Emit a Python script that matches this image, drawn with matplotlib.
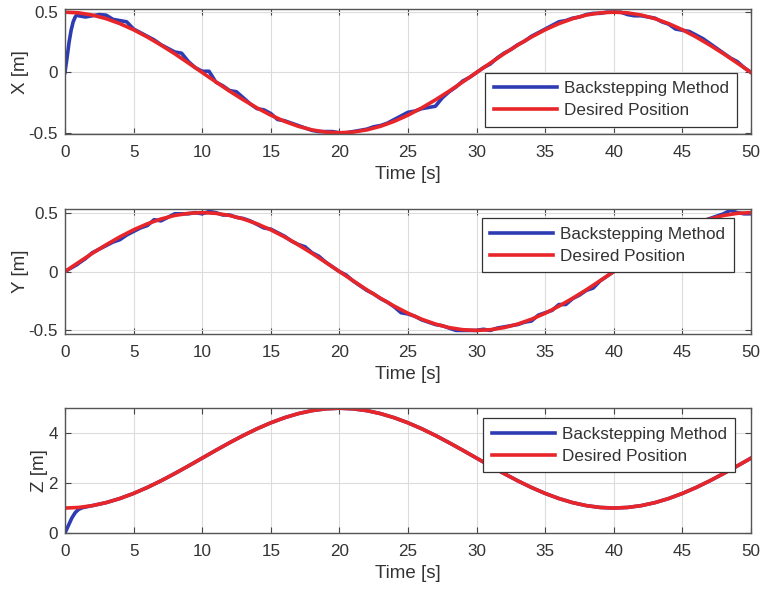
import matplotlib
matplotlib.use("Agg")
import matplotlib.pyplot as plt
import numpy as np

# desired trajectory, read every 1 s
t_ref = np.arange(0, 51, 1)
x_ref = [0.5, 0.494, 0.476, 0.446, 0.405, 0.354, 0.294, 0.227, 0.155, 0.078,
         0.0, -0.078, -0.155, -0.227, -0.294, -0.354, -0.405, -0.446, -0.476, -0.494,
         -0.5, -0.494, -0.476, -0.446, -0.405, -0.354, -0.294, -0.227, -0.155, -0.078,
         0.0, 0.078, 0.155, 0.227, 0.294, 0.354, 0.405, 0.446, 0.476, 0.494,
         0.5, 0.494, 0.476, 0.446, 0.405, 0.354, 0.294, 0.227, 0.155, 0.078, 0.0]
y_ref = [0.0, 0.078, 0.155, 0.227, 0.294, 0.354, 0.405, 0.446, 0.476, 0.494,
         0.5, 0.494, 0.476, 0.446, 0.405, 0.354, 0.294, 0.227, 0.155, 0.078,
         0.0, -0.078, -0.155, -0.227, -0.294, -0.354, -0.405, -0.446, -0.476, -0.494,
         -0.5, -0.494, -0.476, -0.446, -0.405, -0.354, -0.294, -0.227, -0.155, -0.078,
         0.0, 0.078, 0.155, 0.227, 0.294, 0.354, 0.405, 0.446, 0.476, 0.494, 0.5]
z_ref = [1.0, 1.025, 1.098, 1.218, 1.382, 1.586, 1.824, 2.092, 2.382, 2.687,
         3.0, 3.313, 3.618, 3.908, 4.176, 4.414, 4.618, 4.782, 4.902, 4.975,
         5.0, 4.975, 4.902, 4.782, 4.618, 4.414, 4.176, 3.908, 3.618, 3.313,
         3.0, 2.687, 2.382, 2.092, 1.824, 1.586, 1.382, 1.218, 1.098, 1.025,
         1.0, 1.025, 1.098, 1.218, 1.382, 1.586, 1.824, 2.092, 2.382, 2.687, 3.0]

# backstepping response, read every 0.5 s (extra points in the start transient)
t_bs = [0, 0.15, 0.3, 0.45, 0.6, 0.75, 0.9] + list(np.arange(1.0, 50.5, 0.5))
x_bs = [0.0, 0.12, 0.25, 0.35, 0.42, 0.46, 0.48,
        0.47, 0.46, 0.47, 0.48, 0.475, 0.44, 0.43, 0.42, 0.36, 0.33,
        0.30, 0.27, 0.23, 0.20, 0.17, 0.16, 0.09, 0.04, 0.01, 0.01,
        -0.08, -0.11, -0.15, -0.16, -0.21, -0.26, -0.30, -0.31, -0.34, -0.39,
        -0.40, -0.42, -0.44, -0.46, -0.48, -0.49, -0.49, -0.49, -0.50, -0.50,
        -0.49, -0.48, -0.47, -0.45, -0.44, -0.42, -0.39, -0.36, -0.33, -0.32,
        -0.30, -0.29, -0.28, -0.21, -0.16, -0.12, -0.07, -0.04, 0.0, 0.04,
        0.07, 0.12, 0.16, 0.19, 0.23, 0.26, 0.30, 0.33, 0.36, 0.39,
        0.42, 0.43, 0.45, 0.46, 0.48, 0.49, 0.49, 0.50, 0.50, 0.50,
        0.48, 0.47, 0.47, 0.46, 0.45, 0.42, 0.40, 0.36, 0.35, 0.34,
        0.31, 0.28, 0.24, 0.20, 0.16, 0.12, 0.09, 0.04, 0.0]
y_bs = [0.0, 0.01, 0.02, 0.03, 0.04, 0.05, 0.06,
        0.07, 0.11, 0.16, 0.19, 0.22, 0.25, 0.27, 0.31, 0.34, 0.37,
        0.39, 0.44, 0.43, 0.46, 0.49, 0.49, 0.49, 0.50, 0.49, 0.51,
        0.50, 0.48, 0.48, 0.46, 0.45, 0.43, 0.40, 0.37, 0.36, 0.33,
        0.30, 0.26, 0.23, 0.21, 0.16, 0.13, 0.08, 0.04, 0.0, -0.03,
        -0.08, -0.12, -0.16, -0.19, -0.23, -0.26, -0.30, -0.35, -0.36, -0.38,
        -0.41, -0.43, -0.45, -0.46, -0.48, -0.50, -0.50, -0.50, -0.50, -0.49,
        -0.50, -0.48, -0.47, -0.46, -0.45, -0.43, -0.42, -0.37, -0.35, -0.33,
        -0.28, -0.28, -0.23, -0.20, -0.16, -0.14, -0.08, -0.04, 0.0, 0.04,
        0.08, 0.12, 0.15, 0.19, 0.23, 0.26, 0.29, 0.33, 0.35, 0.38,
        0.41, 0.43, 0.45, 0.47, 0.49, 0.52, 0.50, 0.49, 0.49]
t_bz = [0, 0.25, 0.5, 0.75, 1.0, 1.3] + list(np.arange(2, 51, 1))
z_bs = [0.0, 0.3, 0.6, 0.82, 0.95, 1.02] + z_ref[2:]

labels = ["X [m]", "Y [m]", "Z [m]"]
ylims = [(-0.51, 0.525), (-0.53, 0.53), (0, 5)]
yticks = [[-0.5, 0, 0.5], [-0.5, 0, 0.5], [0, 2, 4]]
ytlabels = [["-0.5", "0", "0.5"], ["-0.5", "0", "0.5"], ["0", "2", "4"]]
leg_anchor = [("lower right", (0.98, 0.056)), ("upper right", (0.975, 0.928)),
              ("upper right", (0.977, 0.92))]

plt.rcParams["font.family"] = ["Liberation Sans", "DejaVu Sans"]
fig = plt.figure(figsize=(7.64, 5.89), dpi=100)
bottoms = [0.7725, 0.433, 0.095]
txt = "#333333"

series = [(t_bs, x_bs, t_ref, x_ref), (t_bs, y_bs, t_ref, y_ref), (t_bz, z_bs, t_ref, z_ref)]
for i, (tb, vb, tr, vr) in enumerate(series):
    ax = fig.add_axes([0.085, bottoms[i], 0.898, 0.212])
    ax.plot(tb, vb, color="#2e3cb4", lw=2.6, label="Backstepping Method")
    ax.plot(tr, vr, color="#e8262a", lw=2.6, label="Desired Position")
    ax.set_xlim(0, 50)
    ax.set_ylim(*ylims[i])
    ax.set_xticks(np.arange(0, 55, 5))
    ax.set_yticks(yticks[i])
    ax.set_yticklabels(ytlabels[i])
    ax.grid(True, color="#dcdcdc", lw=0.8)
    ax.set_axisbelow(True)
    ax.tick_params(direction="in", top=True, right=True, labelsize=12.3,
                   colors="#444444", labelcolor=txt, length=4)
    ax.tick_params(axis="x", pad=8)
    ax.tick_params(axis="y", pad=5)
    for s in ax.spines.values():
        s.set_color("#555555")
        s.set_linewidth(1.0)
    ax.set_xlabel("Time [s]", fontsize=13.5, color=txt, labelpad=4)
    ax.set_ylabel(labels[i], fontsize=13.5, color=txt, labelpad=0)
    loc, anchor = leg_anchor[i]
    leg = ax.legend(loc=loc, bbox_to_anchor=anchor, fontsize=12.3, handlelength=3.7,
                    framealpha=1, fancybox=False, edgecolor="#333333",
                    borderpad=0.5, labelspacing=0.42, handletextpad=0.4,
                    borderaxespad=0)
    leg.get_frame().set_linewidth(0.9)
    for tx in leg.get_texts():
        tx.set_color(txt)

fig.savefig("out.png", dpi=100)
